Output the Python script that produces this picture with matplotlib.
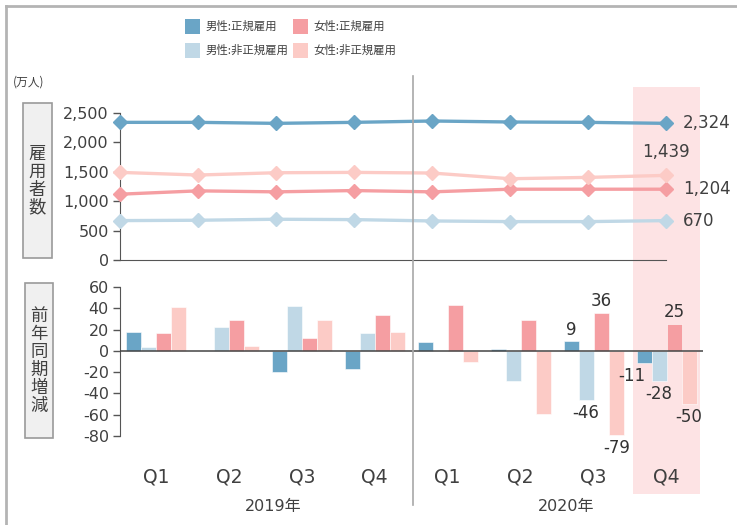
import numpy as np
import matplotlib
matplotlib.use("Agg")
import matplotlib.pyplot as plt
from matplotlib.patches import Rectangle
from matplotlib.lines import Line2D

plt.rcParams['font.family'] = ['DejaVu Sans', 'Noto Sans CJK JP']
plt.rcParams['axes.unicode_minus'] = False

# ---- data ----
quarters = ['Q1', 'Q2', 'Q3', 'Q4', 'Q1', 'Q2', 'Q3', 'Q4']
years = ['2019年', '2020年']
series_names = ['男性:正規雇用', '男性:非正規雇用', '女性:正規雇用', '女性:非正規雇用']

# 雇用者数 (万人)
male_reg = [2341, 2341, 2324, 2341, 2364, 2347, 2341, 2324]
male_nonreg = [670, 676, 693, 687, 664, 653, 653, 670]
female_reg = [1119, 1176, 1159, 1181, 1159, 1204, 1204, 1204]
female_nonreg = [1490, 1445, 1484, 1490, 1479, 1382, 1405, 1439]

# 前年同期増減 (万人)
male_reg_yoy = [18, 0, -20, -17, 8, 2, 9, -11]
male_nonreg_yoy = [4, 22, 42, 17, 0, -28, -46, -28]
female_reg_yoy = [17, 29, 12, 34, 43, 29, 36, 25]
female_nonreg_yoy = [41, 5, 29, 18, -10, -59, -79, -50]

colors = ['#6aa5c6', '#c0d8e6', '#f59ea2', '#fccbc6']
txt = '#404040'
cjk = 'Noto Sans CJK JP'

W, H = 737, 525
fig = plt.figure(figsize=(W / 100, H / 100), dpi=100)


def fx(x):
    return x / W


def fy(y):
    return 1 - y / H


def fbox(x0, y0, x1, y1):
    return [fx(x0), fy(y1), (x1 - x0) / W, (y1 - y0) / H]


# outer frame
fig.add_artist(Line2D([fx(6), fx(6)], [fy(6), fy(530)], color='#b4b4b4', lw=2))
fig.add_artist(Line2D([fx(6), fx(740)], [fy(6), fy(6)], color='#b4b4b4', lw=2))

# highlight for latest quarter
fig.add_artist(Rectangle((fx(633), fy(494)), (700 - 633) / W, (494 - 87) / H,
                         facecolor='#fde3e4', edgecolor='none', zorder=-5))

# separator between years
fig.add_artist(Line2D([fx(413), fx(413)], [fy(76), fy(505)], color='#a8a8a8', lw=1.2))

# ---- top: employee counts ----
ax1 = fig.add_axes(fbox(120, 113, 666, 260))
ax1.set_facecolor('none')
x = np.arange(len(quarters))
for vals, c in zip([male_reg, male_nonreg, female_reg, female_nonreg], colors):
    ax1.plot(x, vals, color=c, lw=2.4, marker='D', ms=7, clip_on=False, zorder=3)
ax1.set_xlim(0, 7)
ax1.set_ylim(0, 2500)
ax1.set_yticks([0, 500, 1000, 1500, 2000, 2500])
ax1.set_yticklabels(['0', '500', '1,000', '1,500', '2,000', '2,500'])
ax1.set_xticks([])
for s in ['top', 'right']:
    ax1.spines[s].set_visible(False)
for s in ['left', 'bottom']:
    ax1.spines[s].set_color('#555555')
ax1.tick_params(axis='y', length=5, width=1, color='#555555', labelsize=11.5,
                labelcolor=txt, pad=3)

# end-point labels
for vals, off, ha in [(male_reg, (12, 0), 'left'),
                      (female_nonreg, (0, 17), 'center'),
                      (female_reg, (12, 0), 'left'),
                      (male_nonreg, (12, 0), 'left')]:
    ax1.annotate(f'{vals[-1]:,}', (7, vals[-1]), xytext=off,
                 textcoords='offset points', va='center', ha=ha,
                 fontsize=12, color=txt, annotation_clip=False)

# ---- bottom: year-on-year change ----
ax2 = fig.add_axes(fbox(120, 287, 703, 436))
ax2.set_facecolor('none')
bw = 0.206
yoy = [male_reg_yoy, male_nonreg_yoy, female_reg_yoy, female_nonreg_yoy]
for i, (vals, c) in enumerate(zip(yoy, colors)):
    ax2.bar(x + (i - 1.5) * bw, vals, width=bw, color=c,
            edgecolor='white', linewidth=0.4, zorder=2)
ax2.axhline(0, color='#444444', lw=1.1, zorder=3)
ax2.set_xlim(-0.5, 7.5)
ax2.set_ylim(-80, 60)
ax2.set_yticks(np.arange(-80, 61, 20))
ax2.set_xticks([])
for s in ['top', 'right', 'bottom']:
    ax2.spines[s].set_visible(False)
ax2.spines['left'].set_color('#555555')
ax2.tick_params(axis='y', length=5, width=1, color='#555555', labelsize=11.5,
                labelcolor=txt, pad=3)

# value labels for the last two quarters
for s, vals in enumerate(yoy):
    for q in (6, 7):
        v = vals[q]
        dx = -9 if (s == 0 and q == 7) else 0
        if v >= 0:
            ax2.annotate(f'{v}', (q + (s - 1.5) * bw, v), xytext=(dx, 2),
                         textcoords='offset points', ha='center', va='bottom',
                         fontsize=12, color='#333333')
        else:
            ax2.annotate(f'{v}', (q + (s - 1.5) * bw, v), xytext=(dx, -3),
                         textcoords='offset points', ha='center', va='top',
                         fontsize=12, color='#333333', annotation_clip=False)

# category labels
for i, q in enumerate(quarters):
    fig.text(fx(156 + 72.9 * i), fy(477), q, ha='center', va='center',
             fontsize=13.5, color=txt)
fig.text(fx(273), fy(507), years[0], ha='center', va='center', fontsize=11.5, color=txt)
fig.text(fx(566), fy(507), years[1], ha='center', va='center', fontsize=11.5, color=txt)

# unit
fig.text(fx(13), fy(82), '(万人)', ha='left', va='center', fontsize=8.5,
         color=txt, family=cjk)

# boxed vertical axis titles
for (x0, y0, x1, y1), title in [((23, 103, 52, 258), '雇用者数'),
                                ((25, 283, 53, 438), '前年同期増減')]:
    fig.add_artist(Rectangle((fx(x0), fy(y1)), (x1 - x0) / W, (y1 - y0) / H,
                             facecolor='#f0f0f0', edgecolor='#9a9a9a', lw=1.2))
    cy = (y0 + y1) / 2
    n = len(title)
    for k, ch in enumerate(title):
        fig.text(fx((x0 + x1) / 2), fy(cy + (k - (n - 1) / 2) * 18), ch,
                 ha='center', va='center', fontsize=12.5, color=txt, family=cjk)

# legend
leg_pos = [(185, 19), (185, 43), (293, 19), (293, 43)]
for (lx, ly), name, c in zip(leg_pos, series_names, colors):
    fig.add_artist(Rectangle((fx(lx), fy(ly + 15)), 15 / W, 15 / H,
                             facecolor=c, edgecolor='none'))
    fig.text(fx(lx + 20), fy(ly + 7.5), name, ha='left', va='center',
             fontsize=8.2, color=txt, family=cjk)

fig.savefig('out.png', dpi=100)
